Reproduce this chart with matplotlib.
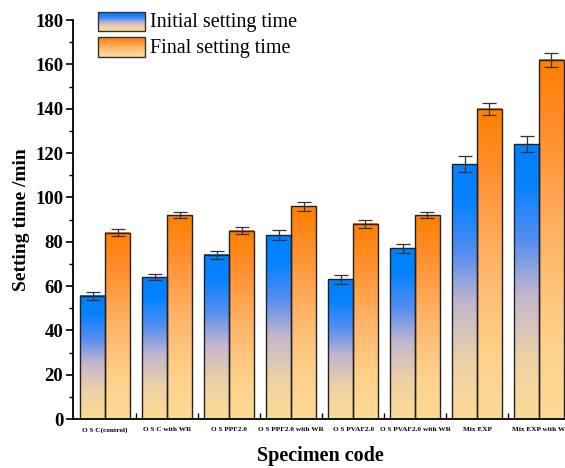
import numpy as np
import matplotlib
matplotlib.use("Agg")
import matplotlib.pyplot as plt
from matplotlib.colors import LinearSegmentedColormap
from matplotlib.patches import Rectangle
from matplotlib.ticker import MultipleLocator, FixedLocator

categories = ["O S C(control)", "O S C with WR", "O S PPF2.0", "O S PPF2.0 with WR",
              "O S PVAF2.0", "O S PVAF2.0 with WR", "Mix EXP", "Mix EXP with W"]
initial = [55.5, 64, 74, 83, 63, 77, 115, 124]
initial_err = [1.8, 1.5, 2.0, 2.3, 2.0, 2.0, 3.6, 3.6]
final = [84, 92, 85, 96, 88, 92, 140, 162]
final_err = [1.5, 1.3, 1.5, 2.0, 1.8, 1.5, 2.7, 3.3]
series_names = ["Initial setting time", "Final setting time"]

plt.rcParams['font.family'] = ['Liberation Serif', 'DejaVu Serif']

blue_cmap = LinearSegmentedColormap.from_list("blue_grad", [
    (0.0, (0/255, 128/255, 255/255)),
    (0.15, (5/255, 130/255, 255/255)),
    (0.35, (85/255, 142/255, 240/255)),
    (0.55, (195/255, 183/255, 205/255)),
    (0.78, (238/255, 210/255, 165/255)),
    (1.0, (253/255, 218/255, 150/255)),
])
orange_cmap = LinearSegmentedColormap.from_list("orange_grad", [
    (0.0, (255/255, 128/255, 0/255)),
    (0.2, (255/255, 142/255, 45/255)),
    (0.5, (255/255, 180/255, 105/255)),
    (0.8, (254/255, 210/255, 140/255)),
    (1.0, (253/255, 218/255, 150/255)),
])

grad = np.linspace(0, 1, 256).reshape(-1, 1)

fig = plt.figure(figsize=(5.65, 4.68), dpi=100)
ax = fig.add_axes([73/565, 1 - 419/468, 1 - 73/565 + 0.02, (419 - 20)/468])

x = np.arange(len(categories))
w = 0.4

def draw_bars(xs, vals, errs, cmap):
    for xi, v, e in zip(xs, vals, errs):
        ax.imshow(grad, cmap=cmap, extent=[xi - w/2, xi + w/2, 0, v],
                  aspect='auto', origin='upper', zorder=2, interpolation='bilinear')
        ax.add_patch(Rectangle((xi - w/2, 0), w, v, fill=False, edgecolor='#222222',
                               linewidth=1.0, zorder=3))
    ax.errorbar(xs, vals, yerr=errs, fmt='none', ecolor='#333333', elinewidth=0.9,
                capsize=5, capthick=0.9, zorder=4)

draw_bars(x - w/2, initial, initial_err, blue_cmap)
draw_bars(x + w/2, final, final_err, orange_cmap)

ax.set_xlim(-0.52, 7.42 + 0.02 * 565 / 62)
ax.set_ylim(0, 180)

for s in ['top', 'right']:
    ax.spines[s].set_visible(False)
for s in ['left', 'bottom']:
    ax.spines[s].set_linewidth(1.3)

ax.yaxis.set_major_locator(MultipleLocator(20))
ax.yaxis.set_minor_locator(MultipleLocator(10))
ax.tick_params(axis='y', which='major', direction='out', length=5, width=1.2, labelsize=13.5, pad=2)
ax.tick_params(axis='y', which='minor', direction='out', length=3, width=1.0)
for lbl in ax.get_yticklabels():
    lbl.set_fontweight('bold')

ax.set_xticks(x)
ax.set_xticklabels(categories, fontsize=5.2, fontweight='bold')
ax.xaxis.set_minor_locator(FixedLocator(x[:-1] + 0.5))
ax.tick_params(axis='x', which='major', direction='in', length=4, width=1.0, pad=6)
ax.tick_params(axis='x', which='minor', direction='in', length=4, width=1.0)

ax.set_ylabel("Setting time /min", fontsize=14, fontweight='bold', labelpad=4)
fig.text(320/565, 1 - 456/468, "Specimen code", fontsize=14.5, fontweight='bold',
         ha='center', va='center')

# legend
lax = fig.add_axes([0, 0, 1, 1], zorder=5)
lax.set_xlim(0, 565)
lax.set_ylim(468, 0)
lax.axis('off')
for (y0, y1), cmap, name in zip([(12, 31), (37, 57)], [blue_cmap, orange_cmap], series_names):
    lax.imshow(grad, cmap=cmap, extent=[98, 145, y1, y0], aspect='auto', origin='upper',
               interpolation='bilinear')
    lax.add_patch(Rectangle((98, y0), 47, y1 - y0, fill=False, edgecolor='#333333', linewidth=1.0))
    lax.text(150, (y0 + y1) / 2 + 1, name, fontsize=14.5, ha='left', va='center')
lax.set_xlim(0, 565)
lax.set_ylim(468, 0)

fig.savefig("out.png", dpi=100)
